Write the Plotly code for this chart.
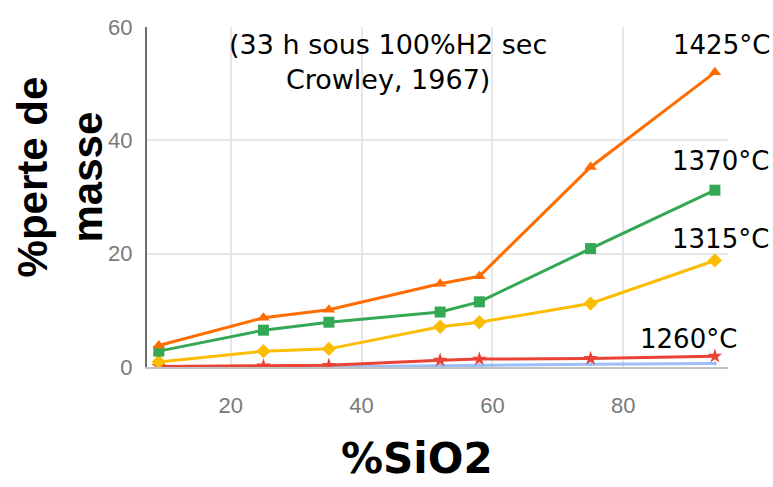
import plotly.graph_objects as go

# %SiO2 content of the samples
sio2 = [9, 25, 35, 52, 58, 75, 94]

# mass loss (%) after 33 h under dry H2, per temperature
loss_1205 = [0.0, 0.0, 0.0, 0.2, 0.3, 0.5, 0.6]
loss_1260 = [0.1, 0.2, 0.3, 1.2, 1.4, 1.5, 1.9]
loss_1315 = [0.9, 2.8, 3.2, 7.1, 7.9, 11.2, 18.8]
loss_1370 = [2.8, 6.5, 7.9, 9.7, 11.5, 20.9, 31.2]
loss_1425 = [3.8, 8.7, 10.1, 14.7, 16.0, 35.3, 52.0]

series = [
    ("1205°C", loss_1205, "#8AB4F8", "circle", None, 0, 0),
    ("1260°C", loss_1260, "#EA4335", "star", "1260°C", -26, 0),
    ("1315°C", loss_1315, "#FBBC04", "diamond", "1315°C", 6, 4),
    ("1370°C", loss_1370, "#34A853", "square", "1370°C", 6, 12),
    ("1425°C", loss_1425, "#FF6D01", "triangle-up", "1425°C", 7, 10),
]

fig = go.Figure()
annotations = []
for name, ys, color, symbol, label, dx, dy in series:
    fig.add_trace(go.Scatter(
        x=sio2, y=ys, mode="lines+markers", name=name,
        line=dict(color=color, width=3),
        marker=dict(symbol=symbol, size=11 if symbol != "circle" else 4, color=color),
        opacity=0.85 if symbol == "circle" else 1.0,
    ))
    if label:
        annotations.append(dict(
            x=sio2[-1], y=ys[-1], xref="x", yref="y", text=label, showarrow=False,
            xanchor="center", yanchor="bottom", xshift=dx, yshift=dy,
            font=dict(family="DejaVu Sans", size=26, color="black"),
        ))

# source note inside the plot
annotations.append(dict(
    x=0.415, y=1.0, xref="paper", yref="paper",
    text="(33 h sous 100%H2 sec<br>Crowley, 1967)", showarrow=False,
    xanchor="center", yanchor="top", align="center",
    font=dict(family="DejaVu Sans", size=27, color="black"),
))

# axis titles
annotations.append(dict(
    x=-0.15, y=0.56, xref="paper", yref="paper",
    text="<b>%perte de<br>masse</b>", showarrow=False, textangle=-90,
    xanchor="center", yanchor="middle", align="center",
    font=dict(family="Liberation Sans", size=42, color="black"),
))
annotations.append(dict(
    x=0.465, y=-0.268, xref="paper", yref="paper",
    text="<b>%SiO2</b>", showarrow=False,
    xanchor="center", yanchor="middle", borderpad=0,
    font=dict(family="DejaVu Sans", size=42, color="black"),
))

fig.update_layout(
    width=773, height=487,
    margin=dict(l=147, r=45, t=27, b=120),
    paper_bgcolor="white", plot_bgcolor="white",
    showlegend=False,
    annotations=annotations,
)
fig.update_xaxes(
    range=[7.2, 96], tickvals=[20, 40, 60, 80],
    showgrid=True, gridcolor="#e6e6e6", gridwidth=1.5,
    showline=True, linecolor="#c4c4c4", linewidth=2, zeroline=False,
    tickfont=dict(family="Liberation Sans Narrow, Liberation Sans", size=22, color="#7a7a7a"),
    ticklabelstandoff=18,
)
fig.update_yaxes(
    range=[0, 60], tickvals=[0, 20, 40, 60],
    showgrid=True, gridcolor="#e6e6e6", gridwidth=1.5,
    showline=True, linecolor="#6e6e6e", linewidth=2, zeroline=False,
    tickfont=dict(family="Liberation Sans Narrow, Liberation Sans", size=22, color="#7a7a7a"),
    ticklabelstandoff=8,
)

fig.write_html("out.html")
